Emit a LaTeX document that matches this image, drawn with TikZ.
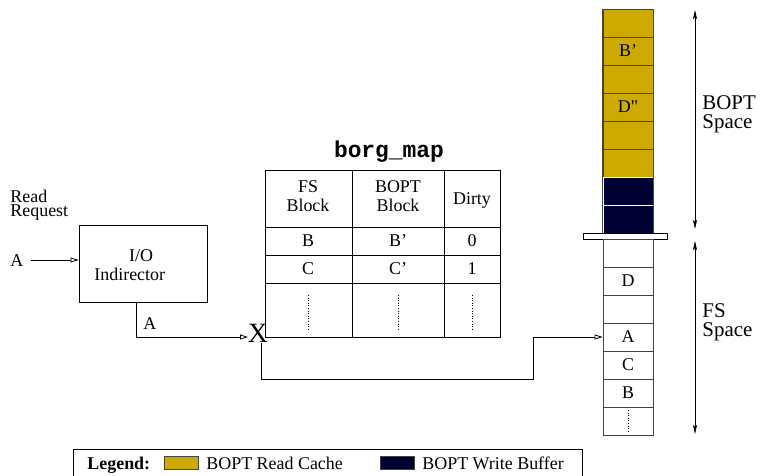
\documentclass[tikz,border=0pt]{standalone}
\usepackage{fontspec}
\setmainfont{Liberation Serif}
\setmonofont{Liberation Mono}
\newfontfamily\rawserif{Liberation Serif}[Ligatures=TeXOff]
\usetikzlibrary{arrows.meta}
\definecolor{gold}{HTML}{CCAA00}
\definecolor{navy}{HTML}{000033}
\definecolor{edgegray}{HTML}{444444}
\tikzset{
  txt/.style={font=\fontsize{18}{18}\selectfont, inner sep=0pt},
  bigtxt/.style={font=\fontsize{21}{21}\selectfont, inner sep=0pt},
  flow/.style={-{Triangle[open,length=8bp,width=5bp]}},
  span/.style={{Stealth[length=9bp,width=4bp,inset=2bp]}-{Stealth[length=9bp,width=4bp,inset=2bp]}},
  cell/.style={draw=edgegray, minimum width=50bp, minimum height=28bp, inner sep=0pt,
               font=\fontsize{18}{18}\selectfont},
  goldcell/.style={cell, fill=gold},
  navycell/.style={cell, fill=navy, draw=white},
  fscell/.style={cell, fill=white},
  dots/.style={dotted, line width=0.6bp},
  swatch/.style={draw=edgegray, minimum width=34bp, minimum height=13bp, inner sep=0pt},
}
\begin{document}
\begin{tikzpicture}[x=1bp, y=-1bp, line width=0.8bp]
\useasboundingbox (0,0) rectangle (760,476);

% ---------- request and indirector ----------
\node[txt, anchor=base west] (rd) at (10,203) {Read};
\node[txt, anchor=base west] (rq) at (10,217) {Request};
\node[txt, anchor=base west] (inA) at (10,267) {A};
\coordinate (inStart) at (31,260);

\node[draw, minimum width=128bp, minimum height=77bp, inner sep=0pt] (ind) at (143,263.5) {};
\node[txt, anchor=base] (io) at (141,262) {I/O};
\node[txt, anchor=base west] (indir) at (94,281) {Indirector};
\draw[flow] (inStart) -- (inStart -| ind.west);

% ---------- lookup point ----------
\node[font=\fontsize{28}{28}\selectfont, inner sep=0pt] (xm) at (258,333) {X};
\coordinate (outTurn) at (136,337);
\coordinate (xin) at (248,337);
\draw[flow] (ind.south -| outTurn) -- (outTurn) -- (xin);
\node[txt, anchor=base west] (outA) at (143,330) {A};

% ---------- borg_map table ----------
\node[font=\fontsize{23}{23}\selectfont\ttfamily\bfseries, anchor=base, inner sep=0pt]
  (title) at (389,158) {borg\_map};
\draw (265,170) rectangle (500,337);
\draw (265,227) -- (500,227);
\draw (265,255) -- (500,255);
\draw (265,283) -- (500,283);
\draw (352,170) -- (352,337);
\draw (444,170) -- (444,337);
\node[txt, anchor=base] (h1a) at (308,193) {FS};
\node[txt, anchor=base] (h1b) at (308,212) {Block};
\node[txt, anchor=base] (h2a) at (398,193) {BOPT};
\node[txt, anchor=base] (h2b) at (398,212) {Block};
\node[txt, anchor=base] (h3) at (472,205) {Dirty};
\node[txt] (r1a) at (308,241) {B};
\node[txt] (r1b) at (398,241) {B'};
\node[txt] (r1c) at (472,241) {0};
\node[txt] (r2a) at (308,269) {C};
\node[txt] (r2b) at (398,269) {C'};
\node[txt] (r2c) at (472,269) {1};
\foreach \cx in {308,398,472}
  \draw[dots] (\cx,295) -- (\cx,331);

% ---------- BOPT space column ----------
\node[goldcell] (b1) at (628,23) {};
\node[goldcell] (b2) at (628,51) {B'};
\node[goldcell] (b3) at (628,79) {};
\node[goldcell] (b4) at (628,107) {\rawserif D"};
\node[goldcell] (b5) at (628,135) {};
\node[goldcell] (b6) at (628,163) {};
\node[navycell] (w1) at (628,191) {};
\node[navycell] (w2) at (628,219) {};
\draw[edgegray] (b1.north west) -- (w2.south west);
\draw[edgegray] (b1.north east) -- (w2.south east);

% divider between the two spaces
\node[draw, fill=white, minimum width=84bp, minimum height=6bp, inner sep=0pt] (bar) at (625,236) {};

% ---------- FS space column ----------
\node[fscell] (f1) at (628,253) {};
\node[fscell] (f2) at (628,281) {D};
\node[fscell] (f3) at (628,309) {};
\node[fscell] (f4) at (628,337) {A};
\node[fscell] (f5) at (628,365) {C};
\node[fscell] (f6) at (628,393) {B};
\node[fscell] (f7) at (628,421) {};
\draw[dots] (628,410) -- (628,432);

% return path from the lookup to the block on disk
\coordinate (retL) at (261,379);
\coordinate (retR) at (533,379);
\coordinate (retUp) at (533,337);
\draw[flow] (xm.south -| retL) -- (retL) -- (retR) -- (retUp) -- (f4.west);

% ---------- extents ----------
\coordinate (bTop) at (695,10);
\coordinate (bBot) at (695,229);
\coordinate (fTop) at (695,241);
\coordinate (fBot) at (695,434);
\draw[span, line width=0.7bp] (bTop) -- (bBot);
\draw[span, line width=0.7bp] (fTop) -- (fBot);
\node[bigtxt, anchor=base west] (bl1) at (702,110) {BOPT};
\node[bigtxt, anchor=base west] (bl2) at (702,129) {Space};
\node[bigtxt, anchor=base west] (fl1) at (702,318) {FS};
\node[bigtxt, anchor=base west] (fl2) at (702,337) {Space};

% ---------- legend ----------
\draw (73,449) rectangle (582,476);
\node[txt, anchor=base west] (lg) at (87,469) {\textbf{Legend:}};
\node[swatch, fill=gold] (sw1) at (181,463) {};
\node[txt, anchor=base west] (lt1) at (206,469) {BOPT Read Cache};
\node[swatch, fill=navy] (sw2) at (397,463) {};
\node[txt, anchor=base west] (lt2) at (422,469) {BOPT Write Buffer};
\end{tikzpicture}
\end{document}
